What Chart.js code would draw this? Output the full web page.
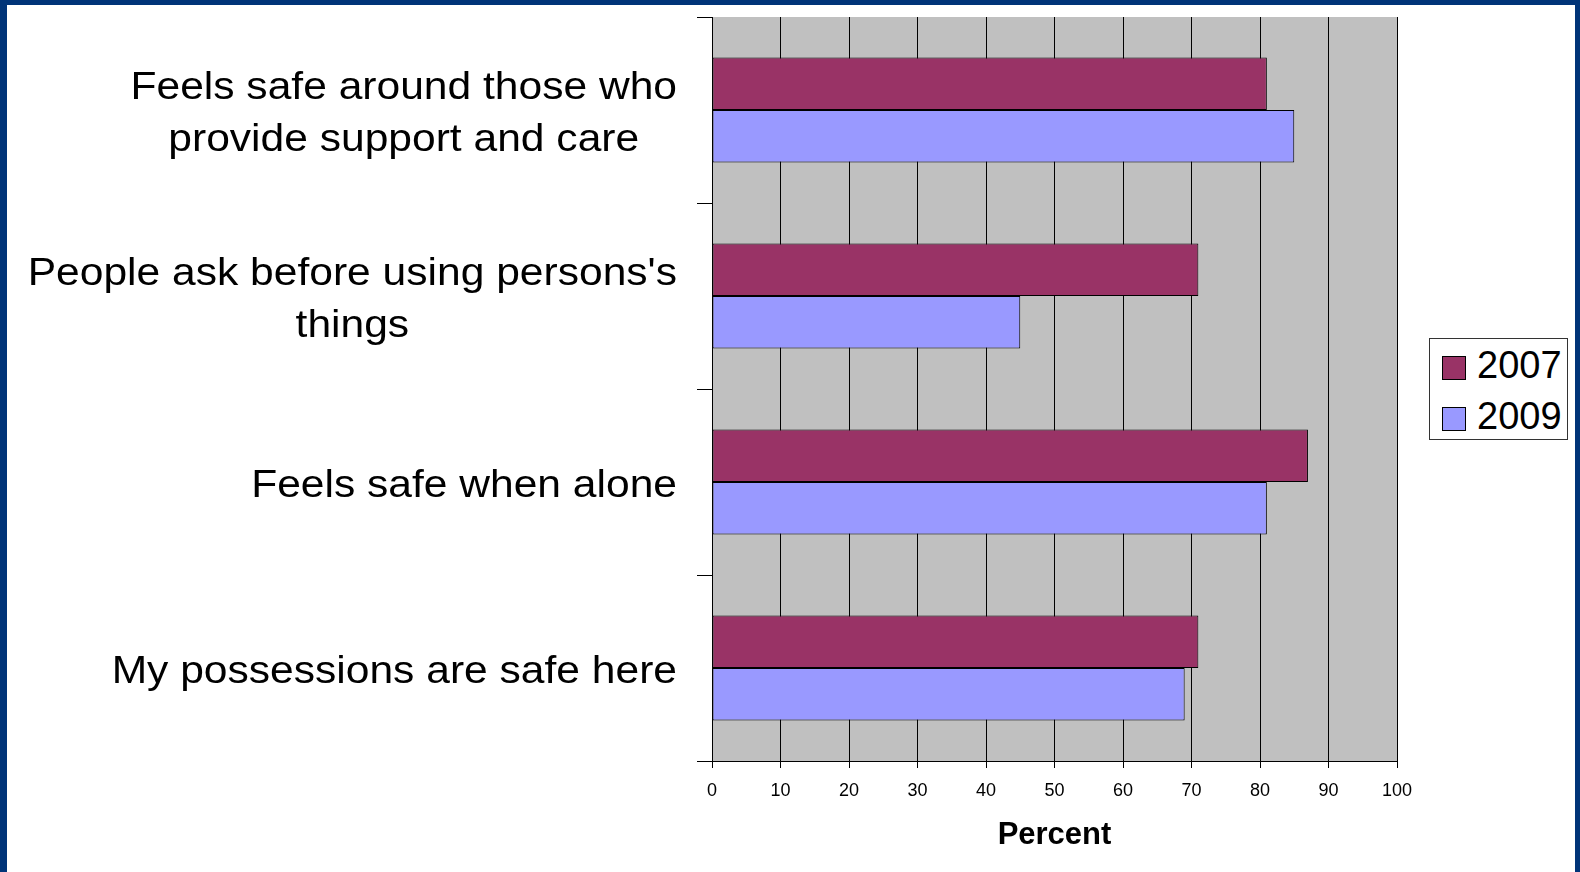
<!DOCTYPE html>
<html>
<head>
<meta charset="utf-8">
<script src="https://cdn.jsdelivr.net/npm/chart.js@4.4.1/dist/chart.umd.min.js"></script>
<style>
    html, body { margin: 0; padding: 0; }
    body {
        width: 1580px; height: 872px; overflow: hidden;
        background: #ffffff; position: relative;
        font-family: "Liberation Sans", Arial, sans-serif;
    }
    .frame-top { position: absolute; left: 0; top: 0; width: 1580px; height: 5px; background: #003478; }
    .frame-left { position: absolute; left: 0; top: 0; width: 7px; height: 872px; background: #003478; }
    .frame-right { position: absolute; left: 1575px; top: 0; width: 5px; height: 872px; background: #003478; }
    #wrap { position: absolute; left: 7px; top: 5px; width: 1568px; height: 867px; }
    .legend {
        position: absolute; left: 1429px; top: 338px; width: 137px; height: 100px;
        border: 1px solid #333; background: #fff;
    }
    .legend-item { position: absolute; left: 12px; height: 40px; line-height: 40px; font-size: 38px; color: #000; }
    .legend-item span.sw {
        position: absolute; left: 0; top: 9px; width: 22px; height: 22px; border: 1px solid #000;
    }
    .legend-item span.tx { position: absolute; left: 35px; top: -2px; }
</style>
</head>
<body>
<div class="frame-top"></div>
<div class="frame-left"></div>
<div class="frame-right"></div>
<div id="wrap"><canvas id="chart"></canvas></div>
<div class="legend">
    <div class="legend-item" style="top:8px;"><span class="sw" style="background:#993366;"></span><span class="tx">2007</span></div>
    <div class="legend-item" style="top:59px;"><span class="sw" style="background:#9999FF;"></span><span class="tx">2009</span></div>
</div>
<script>
// Datos
const categories = [
    ['Feels safe around those who', 'provide support and care'],
    ["People ask before using persons's", 'things'],
    ['Feels safe when alone'],
    ['My possessions are safe here']
];
const values2007 = [81, 71, 87, 71];
const values2009 = [85, 45, 81, 69];
const xTicks = [0, 10, 20, 30, 40, 50, 60, 70, 80, 90, 100];

const FONT = '"Liberation Sans", Arial, sans-serif';

// Fondo gris del área de trazado
const plotBg = {
    id: 'plotBg',
    beforeDraw(chart) {
        const { ctx, chartArea: a } = chart;
        ctx.save();
        ctx.fillStyle = '#C0C0C0';
        ctx.fillRect(a.left, a.top, a.right - a.left, a.bottom - a.top);
        ctx.restore();
    }
};

// Etiquetas de categoría: bloque alineado a la derecha, líneas centradas
// (el original viene algo estirado en horizontal)
const catLabels = {
    id: 'catLabels',
    afterDraw(chart) {
        const { ctx } = chart;
        const y = chart.scales.y;
        const rightEdge = 670;
        const lineH = 52;
        const stretch = 1.12;
        ctx.save();
        ctx.font = '38px ' + FONT;
        ctx.fillStyle = '#000';
        ctx.textAlign = 'center';
        ctx.textBaseline = 'middle';
        categories.forEach((lines, i) => {
            const cy = y.getPixelForValue(i) + 5;
            const bw = Math.max(...lines.map(l => ctx.measureText(l).width)) * stretch;
            const cx = rightEdge - bw / 2;
            lines.forEach((l, j) => {
                ctx.save();
                ctx.translate(cx, cy + (j - (lines.length - 1) / 2) * lineH);
                ctx.scale(stretch, 1);
                ctx.fillText(l, 0, 0);
                ctx.restore();
            });
        });
        ctx.restore();
    }
};

new Chart(document.getElementById('chart'), {
    type: 'bar',
    data: {
        labels: categories,
        datasets: [
            { label: '2007', data: values2007, backgroundColor: '#993366', borderColor: '#000', borderWidth: 1, borderSkipped: false },
            { label: '2009', data: values2009, backgroundColor: '#9999FF', borderColor: '#000', borderWidth: 1, borderSkipped: false }
        ]
    },
    options: {
        indexAxis: 'y',
        responsive: true,
        maintainAspectRatio: false,
        animation: false,
        datasets: { bar: { categoryPercentage: 0.565, barPercentage: 1.0 } },
        layout: { padding: { top: 12, right: 178, left: 0, bottom: 0 } },
        plugins: {
            legend: { display: false },
            tooltip: { enabled: false }
        },
        scales: {
            x: {
                min: 0, max: 100,
                afterBuildTicks: s => { s.ticks = xTicks.map(v => ({ value: v })); },
                afterFit: s => { s.height = 111; },
                grid: { color: '#000', lineWidth: 1, tickLength: 7, drawTicks: true },
                border: { color: '#000', width: 1 },
                ticks: { color: '#000', font: { family: FONT, size: 18 }, padding: 12, maxRotation: 0 },
                title: {
                    display: true, text: 'Percent', color: '#000',
                    font: { family: FONT, size: 31, weight: 'bold' },
                    padding: { top: 0, bottom: 18 }
                }
            },
            y: {
                afterFit: s => { s.width = 705; },
                grid: { drawOnChartArea: false, drawTicks: true, tickLength: 15, color: '#000', offset: true },
                border: { color: '#000', width: 1 },
                ticks: { display: false }
            }
        }
    },
    plugins: [plotBg, catLabels]
});
</script>
</body>
</html>
